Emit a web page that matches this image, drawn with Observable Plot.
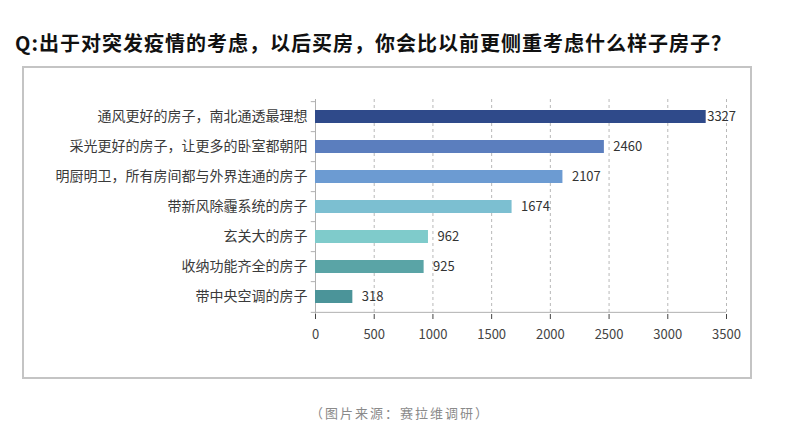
<!DOCTYPE html>
<html><head><meta charset="utf-8">
<script src="https://cdn.jsdelivr.net/npm/d3@7"></script>
<script src="https://cdn.jsdelivr.net/npm/@observablehq/plot@0.6"></script>
<style>
body{margin:0;background:#fff;font-family:"Noto Sans CJK SC","Noto Sans",sans-serif;width:800px;height:441px;position:relative;overflow:hidden}
#title{position:absolute;left:15px;top:30px;font-size:20px;font-weight:bold;letter-spacing:1px;color:#111;white-space:nowrap;line-height:26px}
#box{position:absolute;left:22px;top:66px;width:726px;height:309px;border:2px solid #c4c4c4}
#cap{position:absolute;left:0;width:800px;top:403px;text-align:center;font-size:13px;letter-spacing:2px;color:#8a8a8a}
</style></head>
<body>
<div id="title">Q:出于对突发疫情的考虑，以后买房，你会比以前更侧重考虑什么样子房子？</div>
<div id="box"></div>
<div id="cap">（图片来源：赛拉维调研）</div>
<script>
const categories = ["通风更好的房子，南北通透最理想","采光更好的房子，让更多的卧室都朝阳","明厨明卫，所有房间都与外界连通的房子","带新风除霾系统的房子","玄关大的房子","收纳功能齐全的房子","带中央空调的房子"];
const values = [3327, 2460, 2107, 1674, 962, 925, 318];
const colors = ["#2f4a8a","#5b7ebe","#6c9bd2","#7cbfd1","#7fcbcb","#5aa4a6","#4b9499"];
const xTicks = [0,500,1000,1500,2000,2500,3000,3500];

const data = categories.map((c,i)=>({cat:c, value:values[i], color:colors[i]}));
const step = 215/7;
const chart = Plot.plot({
  width: 726, height: 309,
  marginLeft: 291, marginRight: 24, marginTop: 31, marginBottom: 63,
  style: {fontFamily: '"Noto Sans CJK SC","Noto Sans",sans-serif', background: "transparent", fontSize: "13px", color: "#444"},
  x: {domain: [0,3500], ticks: xTicks, tickFormat: d=>String(d), tickSize: 5, tickPadding: 10, label: null},
  y: {domain: categories, paddingInner: 0.58, paddingOuter: 0.29, label: null, axis: null},
  marks: [
    Plot.ruleX(xTicks.filter(d=>d>0), {stroke: "#b8b8b8", strokeDasharray: "3,3"}),
    Plot.ruleX([0], {stroke: "#b0b0b0"}),
    Plot.ruleY([categories[categories.length-1]], {x1: 0, x2: 3500, dy: step/2, stroke: "#b0b0b0"}),
    Plot.ruleY(categories, {y: d=>d, x1: -36, x2: 0, dy: -step/2, stroke: "#b0b0b0"}),
    Plot.ruleY([categories[categories.length-1]], {x1: -36, x2: 0, dy: step/2, stroke: "#b0b0b0"}),
    Plot.barX(data, {y: "cat", x: "value", fill: "color"}),
    Plot.text(data, {y: "cat", x: 0, text: "cat", textAnchor: "end", dx: -8, fontSize: 14, fill: "#3a3a3a"}),
    Plot.text(data.filter(d=>d.value>3000), {y: "cat", x: "value", text: d=>String(d.value), textAnchor: "start", dx: 1, fontSize: 13, fill: "#333"}),
    Plot.text(data.filter(d=>d.value<=3000), {y: "cat", x: "value", text: d=>String(d.value), textAnchor: "start", dx: 9, fontSize: 13, fill: "#333"})
  ]
});
chart.style.position = "absolute";
chart.style.left = "0px";
chart.style.top = "0px";
document.getElementById("box").appendChild(chart);
</script>
</body></html>
